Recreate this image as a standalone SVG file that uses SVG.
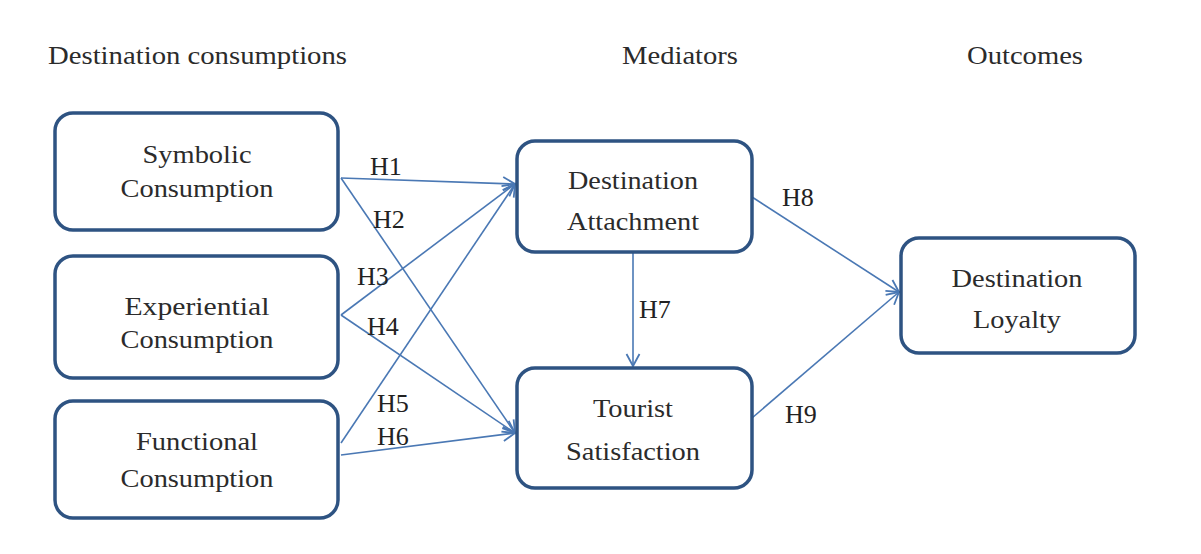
<svg xmlns="http://www.w3.org/2000/svg" width="1201" height="554" viewBox="0 0 1201 554">
<style>
  .box { fill: #ffffff; stroke: #2e5382; stroke-width: 3.5; }
  .t { font-family: "Liberation Serif", "Times New Roman", serif; font-size: 26px; fill: #2b2b2b; }
  .c { text-anchor: middle; }
  .hd { font-family: "Liberation Serif", "Times New Roman", serif; font-size: 25px; fill: #2b2b2b; }
  .lbl { font-family: "Liberation Serif", "Times New Roman", serif; font-size: 26px; fill: #222222; }
  .edge { stroke: #4a78b4; stroke-width: 1.6; fill: none; marker-end: url(#arr); }
</style>
<defs>
  <marker id="arr" markerUnits="userSpaceOnUse" markerWidth="16" markerHeight="16" viewBox="0 0 16 16" refX="14" refY="8" orient="auto">
    <path d="M2,1.5 L14,8 L2,14.5" fill="none" stroke="#4a78b4" stroke-width="1.8"/>
  </marker>
</defs>
<rect width="1201" height="554" fill="#ffffff"/>

<g id="headers">
  <text class="hd" x="48" y="64" textLength="299" lengthAdjust="spacingAndGlyphs">Destination consumptions</text>
  <text class="hd" x="622" y="64" textLength="116" lengthAdjust="spacingAndGlyphs">Mediators</text>
  <text class="hd" x="967" y="64" textLength="116" lengthAdjust="spacingAndGlyphs">Outcomes</text>
</g>

<g id="connectors">
  <line class="edge" x1="341" y1="178" x2="515" y2="184"/>
  <line class="edge" x1="341" y1="178" x2="515" y2="433"/>
  <line class="edge" x1="341" y1="315" x2="515" y2="184"/>
  <line class="edge" x1="341" y1="315" x2="515" y2="433"/>
  <line class="edge" x1="341" y1="443" x2="515" y2="184"/>
  <line class="edge" x1="341" y1="455" x2="515" y2="433"/>
  <line class="edge" x1="633" y1="253" x2="633" y2="366"/>
  <line class="edge" x1="752" y1="197" x2="899" y2="292"/>
  <line class="edge" x1="752" y1="418" x2="899" y2="292"/>
  <text class="lbl" x="370" y="175">H1</text>
  <text class="lbl" x="373" y="228">H2</text>
  <text class="lbl" x="357" y="285">H3</text>
  <text class="lbl" x="367" y="335">H4</text>
  <text class="lbl" x="377" y="412">H5</text>
  <text class="lbl" x="377" y="445">H6</text>
  <text class="lbl" x="639" y="318">H7</text>
  <text class="lbl" x="782" y="206">H8</text>
  <text class="lbl" x="785" y="423">H9</text>
</g>

<g id="symbolic">
  <rect class="box" x="55" y="113" width="283" height="117" rx="18"/>
  <text class="t c" x="197" y="163" textLength="109" lengthAdjust="spacingAndGlyphs">Symbolic</text>
  <text class="t c" x="197" y="197" textLength="153" lengthAdjust="spacingAndGlyphs">Consumption</text>
</g>
<g id="experiential">
  <rect class="box" x="55" y="256" width="283" height="122" rx="18"/>
  <text class="t c" x="197" y="315" textLength="145" lengthAdjust="spacingAndGlyphs">Experiential</text>
  <text class="t c" x="197" y="348" textLength="153" lengthAdjust="spacingAndGlyphs">Consumption</text>
</g>
<g id="functional">
  <rect class="box" x="55" y="401" width="283" height="117" rx="18"/>
  <text class="t c" x="197" y="450" textLength="122" lengthAdjust="spacingAndGlyphs">Functional</text>
  <text class="t c" x="197" y="487" textLength="153" lengthAdjust="spacingAndGlyphs">Consumption</text>
</g>
<g id="attachment">
  <rect class="box" x="517" y="141" width="235" height="111" rx="18"/>
  <text class="t c" x="633" y="189" textLength="130" lengthAdjust="spacingAndGlyphs">Destination</text>
  <text class="t c" x="633" y="230" textLength="132" lengthAdjust="spacingAndGlyphs">Attachment</text>
</g>
<g id="satisfaction">
  <rect class="box" x="517" y="368" width="235" height="120" rx="18"/>
  <text class="t c" x="633" y="417" textLength="80" lengthAdjust="spacingAndGlyphs">Tourist</text>
  <text class="t c" x="633" y="460" textLength="134" lengthAdjust="spacingAndGlyphs">Satisfaction</text>
</g>
<g id="loyalty">
  <rect class="box" x="901" y="238" width="234" height="115" rx="18"/>
  <text class="t c" x="1017" y="287" textLength="131" lengthAdjust="spacingAndGlyphs">Destination</text>
  <text class="t c" x="1017" y="328" textLength="88" lengthAdjust="spacingAndGlyphs">Loyalty</text>
</g>
</svg>
